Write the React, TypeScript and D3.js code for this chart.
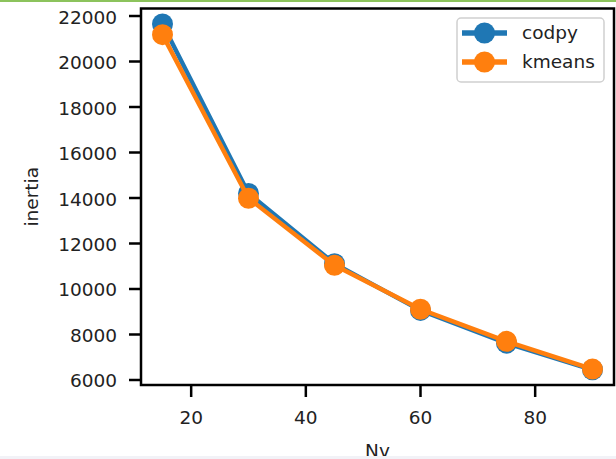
import React, { useEffect, useRef } from "react";
import * as d3 from "d3";

// cluster counts on the x axis
const nv = [15, 30, 45, 60, 75, 90];
// inertia for each method
const codpy = [21650, 14200, 11110, 9060, 7620, 6450];
const kmeans = [21180, 13990, 11040, 9110, 7700, 6480];
const seriesNames = ["codpy", "kmeans"];
const seriesColors = ["#1f77b4", "#ff7f0e"];
const xTicks = [20, 40, 60, 80];
const yTicks = [6000, 8000, 10000, 12000, 14000, 16000, 18000, 20000, 22000];

const W = 616;
const H = 459;
const FONT = "DejaVu Sans, sans-serif";

const App = () => {
    const ref = useRef<SVGGElement>(null);

    useEffect(() => {
        const g = d3.select(ref.current);
        g.selectAll("*").remove();

        const left = 141, right = 614, top = 8.5, bottom = 385;
        const x = d3.scaleLinear().domain([11.25, 93.75]).range([left, right]);
        const y = d3.scaleLinear().domain([5780, 22330]).range([bottom, top]);

        // data lines + markers
        const series = [codpy, kmeans];
        const line = d3.line<number>()
            .x((d, i) => x(nv[i]))
            .y(d => y(d));

        series.forEach((vals, si) => {
            g.append("path")
                .attr("d", line(vals))
                .attr("fill", "none")
                .attr("stroke", seriesColors[si])
                .attr("stroke-width", 4.5)
                .attr("stroke-linejoin", "round");
            g.selectAll(null)
                .data(vals)
                .enter()
                .append("circle")
                .attr("cx", (d, i) => x(nv[i]))
                .attr("cy", d => y(d))
                .attr("r", 10.5)
                .attr("fill", seriesColors[si]);
        });

        // frame
        g.append("rect")
            .attr("x", left)
            .attr("y", top)
            .attr("width", right - left)
            .attr("height", bottom - top)
            .attr("fill", "none")
            .attr("stroke", "#000")
            .attr("stroke-width", 2.5);

        // y ticks
        yTicks.forEach(t => {
            g.append("line")
                .attr("x1", left - 12).attr("x2", left)
                .attr("y1", y(t)).attr("y2", y(t))
                .attr("stroke", "#000").attr("stroke-width", 2.5);
            g.append("text")
                .attr("x", left - 24)
                .attr("y", y(t) + 7.5)
                .attr("text-anchor", "end")
                .style("font-family", FONT)
                .style("font-size", "18.5px")
                .style("fill", "#222")
                .text(t);
        });

        // x ticks
        xTicks.forEach(t => {
            g.append("line")
                .attr("x1", x(t)).attr("x2", x(t))
                .attr("y1", bottom).attr("y2", bottom + 12)
                .attr("stroke", "#000").attr("stroke-width", 2.5);
            g.append("text")
                .attr("x", x(t))
                .attr("y", bottom + 39)
                .attr("text-anchor", "middle")
                .style("font-family", FONT)
                .style("font-size", "18.5px")
                .style("fill", "#222")
                .text(t);
        });

        // axis labels
        g.append("text")
            .attr("x", (left + right) / 2)
            .attr("y", 457)
            .attr("text-anchor", "middle")
            .style("font-family", FONT)
            .style("font-size", "18.5px")
            .style("fill", "#222")
            .text("Nv");
        g.append("text")
            .attr("transform", `translate(38 ${(top + bottom) / 2}) rotate(-90)`)
            .attr("text-anchor", "middle")
            .style("font-family", FONT)
            .style("font-size", "18.5px")
            .style("fill", "#222")
            .text("inertia");

        // legend
        g.append("rect")
            .attr("x", 457).attr("y", 18)
            .attr("width", 147).attr("height", 64)
            .attr("rx", 4)
            .attr("fill", "#fff")
            .attr("fill-opacity", 0.85)
            .attr("stroke", "#d0d0d0")
            .attr("stroke-width", 1.5);
        seriesNames.forEach((name, i) => {
            const ly = 33 + i * 29;
            g.append("line")
                .attr("x1", 462).attr("x2", 507)
                .attr("y1", ly).attr("y2", ly)
                .attr("stroke", seriesColors[i])
                .attr("stroke-width", 5.5);
            g.append("circle")
                .attr("cx", 484.5).attr("cy", ly)
                .attr("r", 10.5)
                .attr("fill", seriesColors[i]);
            g.append("text")
                .attr("x", 522)
                .attr("y", ly + 6)
                .style("font-family", FONT)
                .style("font-size", "18.5px")
                .style("fill", "#222")
                .text(name);
        });

        // screenshot edges
        g.append("rect")
            .attr("x", 0).attr("y", 0)
            .attr("width", W).attr("height", 2)
            .attr("fill", "#8cc35c");
        g.append("rect")
            .attr("x", 0).attr("y", 456)
            .attr("width", W).attr("height", 3)
            .attr("fill", "#f2f2f7");
    }, []);

    return (
        <svg
            width={W}
            height={H}
            style={{ position: "absolute", left: 0, top: 0, background: "#fff" }}
        >
            <g ref={ref} />
        </svg>
    );
};

export default App;
